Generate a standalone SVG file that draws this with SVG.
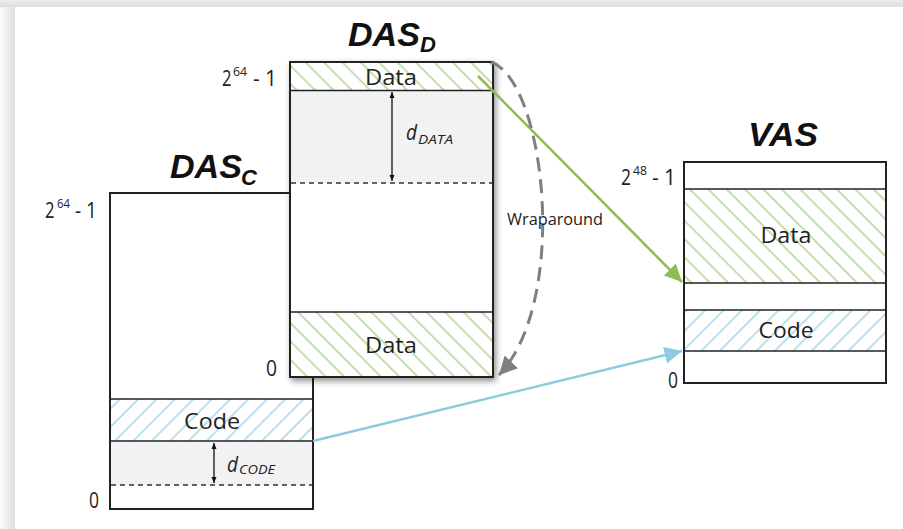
<svg xmlns="http://www.w3.org/2000/svg" width="903" height="529" viewBox="0 0 903 529">
<style>
.t{font-family:"Open Sans","Liberation Sans",sans-serif;fill:#222}
.lbl{font-size:21px}
.num{font-size:21px}
.sup{font-size:13px}
.title{font-family:"Liberation Sans","DejaVu Sans",sans-serif;font-weight:bold;font-style:italic;fill:#111}
.box{fill:#fff;stroke:#222;stroke-width:2}
.sep{stroke:#222;stroke-width:1.5;fill:none}
.dash{stroke:#333;stroke-width:1.5;stroke-dasharray:5 4;fill:none}
.gray{fill:#f2f2f2}
.dim{stroke:#111;stroke-width:1.3;fill:none}
</style>
<defs>
<linearGradient id="lg" x1="0" y1="0" x2="1" y2="0">
<stop offset="0" stop-color="#fbfbfb"/><stop offset="1" stop-color="#dedede"/>
</linearGradient>
<linearGradient id="tg" x1="0" y1="0" x2="0" y2="1">
<stop offset="0" stop-color="#ececec"/><stop offset="1" stop-color="#dddddd"/>
</linearGradient>
<pattern id="hg" width="13" height="13" patternUnits="userSpaceOnUse" patternTransform="rotate(-45)">
<line x1="3" y1="0" x2="3" y2="13" stroke="#a9d18e" stroke-width="1.4"/>
</pattern>
<pattern id="hb" width="13" height="13" patternUnits="userSpaceOnUse" patternTransform="rotate(45)">
<line x1="3" y1="0" x2="3" y2="13" stroke="#9dd3e5" stroke-width="1.4"/>
</pattern>
<filter id="sh" x="-10%" y="-10%" width="125%" height="125%">
<feDropShadow dx="2" dy="3" stdDeviation="3" flood-color="#000" flood-opacity="0.45"/>
</filter>
<marker id="ag" markerWidth="8" markerHeight="8" refX="7" refY="4" orient="auto" markerUnits="strokeWidth">
<path d="M0,0.6 L7,4 L0,7.4 Z" fill="#8fbc4f"/>
</marker>
<marker id="ab" markerWidth="8" markerHeight="8" refX="7" refY="4" orient="auto" markerUnits="strokeWidth">
<path d="M0,0.6 L7,4 L0,7.4 Z" fill="#8ccbe0"/>
</marker>
<marker id="aw" markerWidth="7" markerHeight="7" refX="6" refY="3.5" orient="auto" markerUnits="strokeWidth">
<path d="M0,0.4 L6,3.5 L0,6.6 Z" fill="#7f7f7f"/>
</marker>
<marker id="dh" markerWidth="8" markerHeight="8" refX="6" refY="4" orient="auto-start-reverse" markerUnits="userSpaceOnUse">
<path d="M0,1.5 L6,4 L0,6.5 Z" fill="#111"/>
</marker>
</defs>

<!-- page background -->
<rect x="0" y="0" width="903" height="529" fill="#e8e8e8"/>
<rect x="0" y="0" width="15" height="529" fill="url(#lg)"/>
<rect x="0" y="0" width="903" height="7" fill="url(#tg)"/>
<rect x="15" y="7" width="888" height="522" fill="#fff"/>

<!-- DAS_C -->
<g id="das-c">
<rect class="box" x="110" y="193" width="203" height="316"/>
<rect class="gray" x="111" y="441" width="201" height="44"/>
<rect x="111" y="399" width="201" height="42" fill="url(#hb)"/>
<line class="sep" x1="110" y1="399" x2="313" y2="399"/>
<line class="sep" x1="110" y1="441" x2="313" y2="441"/>
<line class="dash" x1="111" y1="485" x2="312" y2="485"/>
<line class="dim" x1="214" y1="443" x2="214" y2="483" marker-start="url(#dh)" marker-end="url(#dh)"/>
<text class="t lbl" x="212" y="429" text-anchor="middle" textLength="56" lengthAdjust="spacingAndGlyphs">Code</text>
<text class="t" x="227" y="472" font-size="21" font-style="italic" textLength="11" lengthAdjust="spacingAndGlyphs">d</text>
<text class="t" x="239" y="474" font-size="13" font-style="italic" textLength="36" lengthAdjust="spacingAndGlyphs">CODE</text>
<text class="title" x="170" y="178" font-size="33" textLength="72" lengthAdjust="spacingAndGlyphs">DAS</text>
<text class="title" x="241" y="185" font-size="22">C</text>
<text class="t num" x="45" y="218" textLength="9.5" lengthAdjust="spacingAndGlyphs">2</text>
<text class="t sup" x="57" y="208" textLength="13" lengthAdjust="spacingAndGlyphs">64</text>
<text class="t num" x="75" y="218" textLength="22" lengthAdjust="spacingAndGlyphs">- 1</text>
<text class="t num" x="89" y="508" textLength="10" lengthAdjust="spacingAndGlyphs">0</text>
</g>

<!-- DAS_D -->
<g id="das-d">
<rect class="box" x="290" y="62" width="203" height="315" filter="url(#sh)"/>
<rect class="gray" x="291" y="90" width="201" height="93"/>
<rect x="291" y="63" width="201" height="27" fill="url(#hg)"/>
<rect x="291" y="312" width="201" height="64" fill="url(#hg)"/>
<rect class="box" x="290" y="62" width="203" height="315" style="fill:none"/>
<line class="sep" x1="290" y1="90.5" x2="493" y2="90.5"/>
<line class="sep" x1="290" y1="312" x2="493" y2="312"/>
<line class="dash" x1="291" y1="183" x2="492" y2="183"/>
<line class="dim" x1="392" y1="92" x2="392" y2="181" marker-start="url(#dh)" marker-end="url(#dh)"/>
<text class="t lbl" x="391" y="85" text-anchor="middle" textLength="52" lengthAdjust="spacingAndGlyphs">Data</text>
<text class="t lbl" x="391" y="353" text-anchor="middle" textLength="52" lengthAdjust="spacingAndGlyphs">Data</text>
<text class="t" x="406" y="140" font-size="21" font-style="italic" textLength="11" lengthAdjust="spacingAndGlyphs">d</text>
<text class="t" x="418" y="143.5" font-size="13" font-style="italic" textLength="35" lengthAdjust="spacingAndGlyphs">DATA</text>
<text class="title" x="348" y="46" font-size="33" textLength="72" lengthAdjust="spacingAndGlyphs">DAS</text>
<text class="title" x="420" y="52" font-size="22">D</text>
<text class="t num" x="222" y="86" textLength="9.5" lengthAdjust="spacingAndGlyphs">2</text>
<text class="t sup" x="233" y="76" textLength="14" lengthAdjust="spacingAndGlyphs">64</text>
<text class="t num" x="253" y="86" textLength="24" lengthAdjust="spacingAndGlyphs">- 1</text>
<text class="t num" x="266" y="376" textLength="11" lengthAdjust="spacingAndGlyphs">0</text>
</g>

<!-- VAS -->
<g id="vas">
<rect class="box" x="684" y="162" width="202" height="221"/>
<rect x="685" y="189" width="200" height="94" fill="url(#hg)"/>
<rect x="685" y="310" width="200" height="41" fill="url(#hb)"/>
<line class="sep" x1="684" y1="189" x2="886" y2="189"/>
<line class="sep" x1="684" y1="283" x2="886" y2="283"/>
<line class="sep" x1="684" y1="310" x2="886" y2="310"/>
<line class="sep" x1="684" y1="351" x2="886" y2="351"/>
<text class="t lbl" x="786" y="243" text-anchor="middle" textLength="51" lengthAdjust="spacingAndGlyphs">Data</text>
<text class="t lbl" x="786" y="338" text-anchor="middle" textLength="55" lengthAdjust="spacingAndGlyphs">Code</text>
<text class="title" x="748" y="146" font-size="33" textLength="70" lengthAdjust="spacingAndGlyphs">VAS</text>
<text class="t num" x="621" y="185" textLength="10" lengthAdjust="spacingAndGlyphs">2</text>
<text class="t sup" x="633" y="175" textLength="14" lengthAdjust="spacingAndGlyphs">48</text>
<text class="t num" x="652" y="185" textLength="24" lengthAdjust="spacingAndGlyphs">- 1</text>
<text class="t num" x="668" y="388" textLength="10" lengthAdjust="spacingAndGlyphs">0</text>
</g>

<!-- connectors -->
<g id="connectors">
<line x1="478" y1="76" x2="682" y2="282" stroke="#8fbc4f" stroke-width="2.5" marker-end="url(#ag)"/>
<line x1="313" y1="441" x2="682" y2="351" stroke="#8ccbe0" stroke-width="2.5" marker-end="url(#ab)"/>
<path d="M491,62 C545,80 570,300 499,375" fill="none" stroke="#7f7f7f" stroke-width="3" stroke-dasharray="14 8" marker-end="url(#aw)"/>
<text class="t" x="507" y="225" font-size="16" textLength="96" lengthAdjust="spacingAndGlyphs">Wraparound</text>
</g>
</svg>
